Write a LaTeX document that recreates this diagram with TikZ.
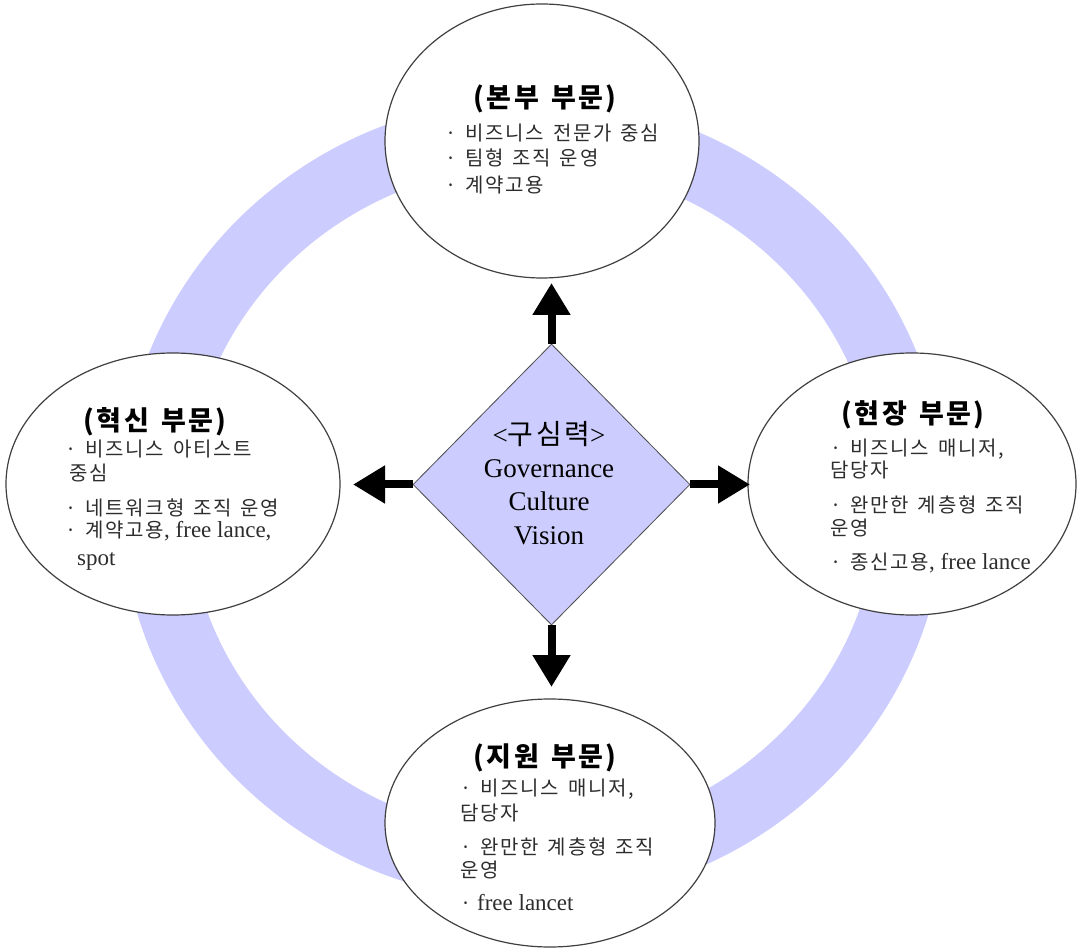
\documentclass[tikz,border=0pt]{standalone}
\usepackage{fontspec}
\setmainfont{Liberation Serif}
\newfontfamily\kr[LetterSpace=9,WordSpace=1.4]{Noto Sans CJK KR}
\usetikzlibrary{shapes.geometric,arrows.meta}
\definecolor{lav}{RGB}{204,204,255}
\definecolor{txt}{RGB}{45,45,45}
\newcommand\lat[1]{{\rmfamily\fontsize{23}{24}\selectfont #1}}
\begin{document}
\begin{tikzpicture}[x=1pt,y=-1pt,
  ell/.style={ellipse, draw=black!75, line width=1.2pt, fill=white, inner sep=0pt},
  ttl/.style={font=\kr\bfseries\fontsize{27}{30}\selectfont, inner sep=0pt},
  body/.style={font=\kr\fontsize{20}{24}\selectfont, align=left, anchor=north west, inner sep=0pt, text=txt},
  bigarrow/.style={line width=8pt, -{Triangle[width=36pt,length=32pt]}},
  ]
\useasboundingbox (0,0) rectangle (1077,949);
\fill[white] (0,0) rectangle (1077,949);
% ring
\node[ellipse, draw=lav, line width=67pt, minimum width=758pt, minimum height=736pt, inner sep=0pt] (ring) at (533,500) {};
% ellipses
\node[ell, minimum width=314pt, minimum height=274pt] (top) at (542,141) {};
\node[ell, minimum width=334pt, minimum height=262pt] (left) at (173,484) {};
\node[ell, minimum width=328pt, minimum height=262pt] (right) at (912,484) {};
\node[ell, minimum width=330pt, minimum height=248pt] (bottom) at (550,823) {};
% diamond
\node[diamond, draw=black!70, line width=0.8pt, fill=lav, minimum width=277pt, minimum height=281pt, inner sep=0pt] (dia) at (551.5,484.5) {};
% arrows
\coordinate (tipN) at (551.5,283);
\coordinate (tipS) at (551.5,687);
\coordinate (tipW) at (353,484.5);
\coordinate (tipE) at (750,484.5);
\draw[bigarrow] (dia.north) -- (tipN);
\draw[bigarrow] (dia.south) -- (tipS);
\draw[bigarrow] (dia.west) -- (tipW);
\draw[bigarrow] (dia.east) -- (tipE);
% diamond text
\node[align=center, anchor=north, inner sep=0pt, font=\fontsize{27}{33.3}\selectfont] (core) at (549,421)
  {<{\kr\fontsize{28}{33.3}\selectfont 구심력}>\\Governance\\Culture\\Vision};
% top
\node[ttl] (topT) at (545,99) {(본부 부문)};
\node[body] (topB) at (445,123.5) {· 비즈니스 전문가 중심\\[1pt]· 팀형 조직 운영\\[3pt]· 계약고용};
% left
\node[ttl] (leftT) at (155,422) {(혁신 부문)};
\node[body] (leftB) at (65,439.5) {· 비즈니스 아티스트\\\hspace*{4pt}중심\\[11pt]· 네트워크형 조직 운영\\[-2pt]· 계약고용\lat{, free lance,}\\[4pt]\hspace*{12pt}\lat{spot}};
% right
\node[ttl] (rightT) at (913,415) {(현장 부문)};
\node[body] (rightB) at (830,438.5) {· 비즈니스 매니저,\\[-2pt]담당자\\[11pt]· 완만한 계층형 조직\\[-1pt]운영\\[10pt]· 종신고용\lat{, free lance}};
% bottom
\node[ttl] (bottomT) at (545,758) {(지원 부문)};
\node[body] (bottomB) at (460,778.5) {· 비즈니스 매니저,\\[1pt]담당자\\[10pt]· 완만한 계층형 조직\\[-1pt]운영\\[9pt]·\lat{ free lancet}};
\end{tikzpicture}
\end{document}
